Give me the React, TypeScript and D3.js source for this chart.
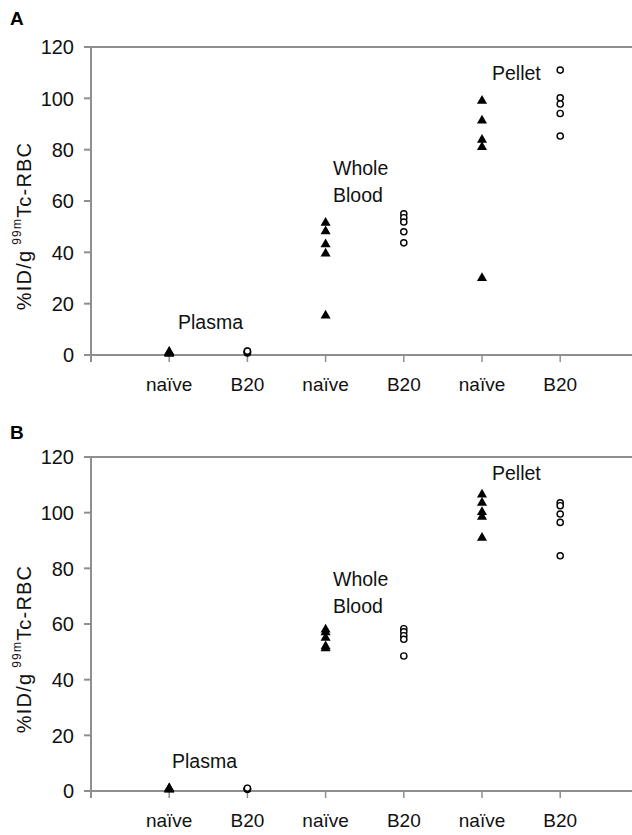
import React from "react";
import * as d3 from "d3";

const categories = ["naïve", "B20", "naïve", "B20", "naïve", "B20"];
const yTicks = [0, 20, 40, 60, 80, 100, 120];
const groupLabels = [["Plasma"], ["Whole", "Blood"], ["Pellet"]];

// Panel A values (%ID/g)
const aPlasmaNaive = [0.5, 0.7, 0.9, 1.0, 1.2];
const aPlasmaB20 = [0.8, 1.0, 1.2, 1.4, 1.5];
const aBloodNaive = [51.5, 48.2, 43.1, 39.5, 15.4];
const aBloodB20 = [55.0, 53.5, 51.8, 48.0, 43.7];
const aPelletNaive = [99.0, 91.3, 83.8, 81.0, 30.0];
const aPelletB20 = [111.0, 100.2, 97.8, 94.1, 85.3];

// Panel B values (%ID/g)
const bPlasmaNaive = [0.5, 0.6, 0.8, 0.9, 1.0];
const bPlasmaB20 = [0.6, 0.7, 0.8, 0.9, 1.0];
const bBloodNaive = [58.0, 57.0, 55.0, 52.0, 51.3];
const bBloodB20 = [58.3, 57.2, 55.8, 54.5, 48.5];
const bPelletNaive = [106.5, 103.5, 100.2, 98.5, 91.0];
const bPelletB20 = [103.5, 102.5, 99.5, 96.5, 84.5];

type Panel = {
  letter: string;
  letterY: number;
  top: number;
  bottom: number;
  series: number[][];
  labelPos: { x: number; y: number }[];
};

const AXIS = "#8f8f8f";
const FONT = "'Liberation Sans', Arial, sans-serif";

function PanelChart({ p }: { p: Panel }) {
  const x = d3.scaleLinear().domain([0, 7]).range([91, 638.4]);
  const y = d3.scaleLinear().domain([0, 120]).range([p.bottom, p.top]);
  const tri = d3.symbol().type(d3.symbolTriangle).size(44)();
  const xTicks = d3.range(0, 8);
  const yMid = (p.top + p.bottom) / 2 + 25;
  return (
    <g>
      <text x={10} y={p.letterY} fontFamily={FONT} fontWeight="bold" fontSize={19}>
        {p.letter}
      </text>
      {/* plot area frame */}
      <line x1={x(0)} x2={x(7)} y1={y(120)} y2={y(120)} stroke={AXIS} strokeWidth={2} />
      <line x1={x(0)} x2={x(0)} y1={y(120)} y2={y(0) + 7} stroke={AXIS} strokeWidth={2} />
      <line x1={x(0)} x2={x(7)} y1={y(0)} y2={y(0)} stroke={AXIS} strokeWidth={2} />
      {yTicks.map((t) => (
        <g key={"y" + t}>
          <line x1={x(0) - 7} x2={x(0)} y1={y(t)} y2={y(t)} stroke={AXIS} strokeWidth={2} />
          <text
            x={x(0) - 17}
            y={y(t)}
            dy="0.36em"
            textAnchor="end"
            fontFamily={FONT}
            fontSize={20}
            fill="#111"
          >
            {t}
          </text>
        </g>
      ))}
      {xTicks.map((t) => (
        <line key={"x" + t} x1={x(t)} x2={x(t)} y1={y(0)} y2={y(0) + 7} stroke={AXIS} strokeWidth={1.5} />
      ))}
      {categories.map((c, i) => (
        <text
          key={"c" + i}
          x={x(i + 1)}
          y={y(0) + 36}
          textAnchor="middle"
          fontFamily={FONT}
          fontSize={19}
          fill="#111"
        >
          {c}
        </text>
      ))}
      <text
        transform={`translate(31,${yMid}) rotate(-90)`}
        textAnchor="middle"
        fontFamily={FONT}
        fontSize={20}
        letterSpacing={1.2}
        fill="#111"
      >
        %ID/g
        <tspan dx={5} dy={-10} fontSize={12}>
          99m
        </tspan>
        <tspan dy={10}>Tc-RBC</tspan>
      </text>
      {groupLabels.map((lines, gi) =>
        lines.map((ln, li) => (
          <text
            key={"g" + gi + li}
            x={p.labelPos[gi].x}
            y={p.labelPos[gi].y + li * 27}
            fontFamily={FONT}
            fontSize={19.5}
            fill="#111"
          >
            {ln}
          </text>
        ))
      )}
      {p.series.map((vals, si) =>
        vals.map((v, vi) =>
          si % 2 === 0 ? (
            <path
              key={"s" + si + "-" + vi}
              d={tri || ""}
              transform={`translate(${x(si + 1)},${y(v)})`}
              fill="#000"
            />
          ) : (
            <circle
              key={"s" + si + "-" + vi}
              cx={x(si + 1)}
              cy={y(v)}
              r={3.1}
              fill="#fff"
              stroke="#000"
              strokeWidth={1.4}
            />
          )
        )
      )}
    </g>
  );
}

const panels: Panel[] = [
  {
    letter: "A",
    letterY: 25,
    top: 47,
    bottom: 355,
    series: [aPlasmaNaive, aPlasmaB20, aBloodNaive, aBloodB20, aPelletNaive, aPelletB20],
    labelPos: [
      { x: 178, y: 329 },
      { x: 333, y: 175 },
      { x: 492, y: 80 },
    ],
  },
  {
    letter: "B",
    letterY: 439,
    top: 457,
    bottom: 791,
    series: [bPlasmaNaive, bPlasmaB20, bBloodNaive, bBloodB20, bPelletNaive, bPelletB20],
    labelPos: [
      { x: 172, y: 768 },
      { x: 333, y: 586 },
      { x: 492, y: 480 },
    ],
  },
];

export default function App() {
  return (
    <svg
      width={632}
      height={835}
      style={{ position: "absolute", left: 0, top: 0, background: "#fff" }}
    >
      <rect width={632} height={835} fill="#fff" />
      {panels.map((p) => (
        <PanelChart key={p.letter} p={p} />
      ))}
    </svg>
  );
}
